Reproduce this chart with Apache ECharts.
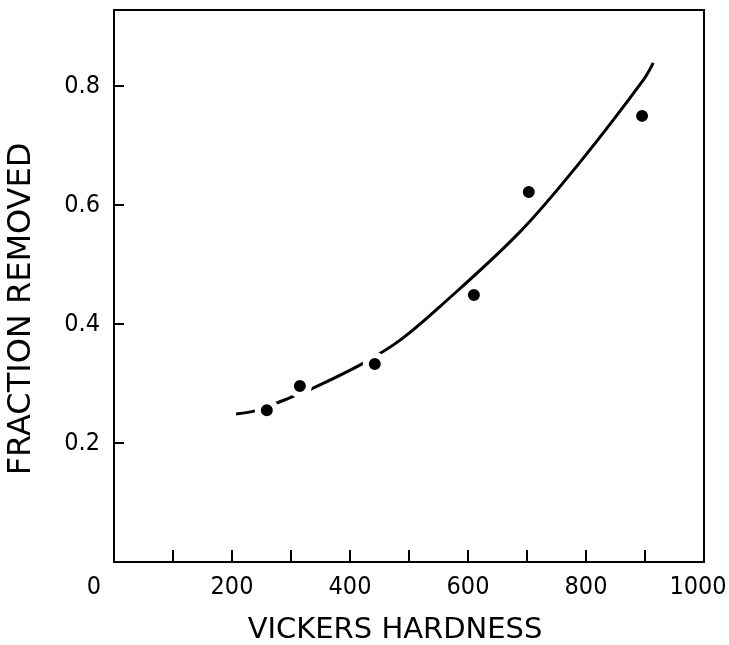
<!DOCTYPE html>
<html>
<head>
<meta charset="utf-8">
<script src="https://cdn.jsdelivr.net/npm/echarts@6/dist/echarts.min.js"></script>
<style>
html,body{margin:0;padding:0;background:#fff;}
#chart{width:729px;height:645px;}
</style>
</head>
<body>
<div id="chart"></div>
<script>
// Measured data points (Vickers hardness, fraction removed)
var pointX = [259, 315, 442, 610, 703, 895];
var pointY = [0.255, 0.296, 0.333, 0.449, 0.622, 0.750];

// Fitted curve
var curveX = [207, 242, 305, 341, 422, 485, 552, 688, 793, 897, 914];
var curveY = [0.249, 0.255, 0.279, 0.294, 0.334, 0.373, 0.429, 0.555, 0.676, 0.810, 0.839];

// Tick labels
var xTicks = [0, 200, 400, 600, 800, 1000];
var xMinorTicks = [0, 100, 200, 300, 400, 500, 600, 700, 800, 900, 1000];
var yTicks = [0.2, 0.4, 0.6, 0.8];

var xTitle = 'VICKERS HARDNESS';
var yTitle = 'FRACTION REMOVED';

var numFont = '"DejaVu Sans Condensed", "Liberation Sans Narrow", sans-serif';
var titleFont = '"DejaVu Sans", sans-serif';

function zip(a, b) { return a.map(function (v, i) { return [v, b[i]]; }); }

var chart = echarts.init(document.getElementById('chart'));
chart.setOption({
  backgroundColor: '#fff',
  animation: false,
  grid: {
    left: 114, right: 25, top: 10, bottom: 83,
    outerBoundsMode: 'none', containLabel: false,
    show: true, borderColor: '#000', borderWidth: 2, backgroundColor: 'transparent'
  },
  xAxis: {
    type: 'value', min: 0, max: 1000, interval: 100,
    axisLine: { show: true, lineStyle: { color: '#000', width: 2 } },
    axisTick: { show: true, inside: true, length: 12, lineStyle: { color: '#000', width: 2 }, customValues: xMinorTicks },
    axisLabel: {
      customValues: xTicks,
      color: '#000', fontFamily: numFont, fontSize: 25, margin: 13,
      formatter: function (v) {
        if (v === 0) return '{z|0}';
        if (v === 1000) return '{e|1000}';
        return String(v);
      },
      rich: {
        z: { fontFamily: numFont, fontSize: 25, color: '#000', padding: [0, 40, 0, 0] },
        e: { fontFamily: numFont, fontSize: 25, color: '#000', padding: [0, 12, 0, 0] }
      }
    },
    splitLine: { show: false },
    name: xTitle, nameLocation: 'middle', nameGap: 54,
    nameTextStyle: { color: '#000', fontFamily: titleFont, fontSize: 29, padding: [0, 28, 0, 0] }
  },
  yAxis: {
    type: 'value', min: 0, max: 0.928, interval: 0.2,
    axisLine: { show: true, lineStyle: { color: '#000', width: 2 } },
    axisTick: { show: true, inside: true, length: 10, lineStyle: { color: '#000', width: 2 }, customValues: yTicks },
    axisLabel: {
      customValues: yTicks,
      color: '#000', fontFamily: numFont, fontSize: 25, margin: 14,
      formatter: function (v) { return v.toFixed(1); }
    },
    splitLine: { show: false },
    name: yTitle, nameLocation: 'middle', nameRotate: 90, nameGap: 76,
    nameTextStyle: { color: '#000', fontFamily: titleFont, fontSize: 32, padding: [0, 46, 0, 0] }
  },
  series: [
    {
      type: 'line', data: zip(curveX, curveY), smooth: 0.35, showSymbol: false,
      lineStyle: { color: '#000', width: 3 }, z: 2, silent: true
    },
    {
      type: 'scatter', data: zip(pointX, pointY), symbol: 'circle', symbolSize: 18,
      itemStyle: { color: '#000', opacity: 1, borderColor: '#fff', borderWidth: 6 }, z: 3, silent: true
    }
  ]
});
</script>
</body>
</html>
